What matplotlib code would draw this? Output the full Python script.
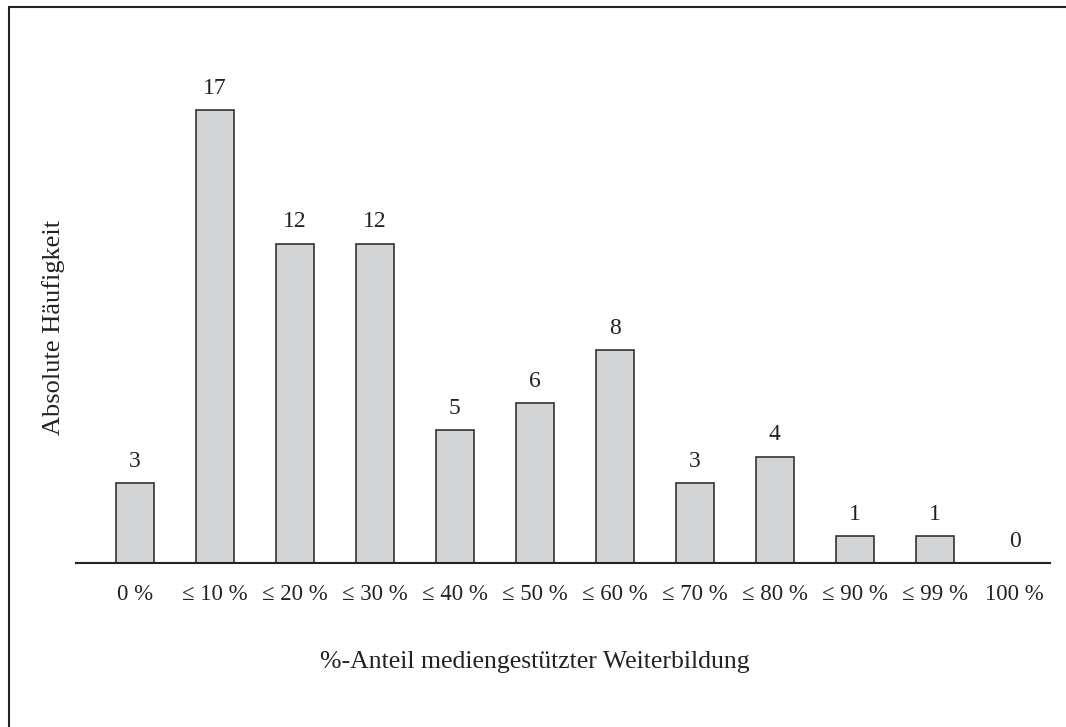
import matplotlib
matplotlib.use('Agg')
import matplotlib.pyplot as plt
import numpy as np

# Daten
kategorien = ['0 %', '≤ 10 %', '≤ 20 %', '≤ 30 %', '≤ 40 %', '≤ 50 %',
              '≤ 60 %', '≤ 70 %', '≤ 80 %', '≤ 90 %', '≤ 99 %', '100 %']
haeufigkeit = [3, 17, 12, 12, 5, 6, 8, 3, 4, 1, 1, 0]

plt.rcParams['font.family'] = ['Liberation Serif', 'DejaVu Serif']

fig = plt.figure(figsize=(10.66, 7.27), dpi=100)
ax = fig.add_axes([0.0713, 0.2256, 0.9137, 0.692])

x = np.arange(len(kategorien))
balken = ax.bar(x, haeufigkeit, width=0.475, color='#d3d4d6',
                edgecolor='#333333', linewidth=1.2)

# Werte ueber den Balken
for xi, wert in zip(x, haeufigkeit):
    ax.annotate(str(wert), (xi, wert), xytext=(0, 8), textcoords='offset points',
                ha='center', va='bottom', fontsize=17, color='#222222')

ax.set_xlim(-0.7375, 11.44)
ax.set_ylim(0, 18.9)
ax.set_xticks(x)
ax.set_xticklabels(kategorien, fontsize=16.5, color='#222222')
ax.tick_params(axis='x', length=0, pad=15)
ax.set_yticks([])
for s in ['top', 'right', 'left']:
    ax.spines[s].set_visible(False)
ax.spines['bottom'].set_linewidth(1.5)
ax.spines['bottom'].set_color('#222222')

fig.text(535 / 1066, 1 - 662 / 727, '%-Anteil mediengestützter Weiterbildung',
         ha='center', va='center', fontsize=18.5, color='#222222')
fig.text(54 / 1066, 1 - 327 / 727, 'Absolute Häufigkeit', rotation=90,
         ha='center', va='center', fontsize=19, color='#222222')

# Rahmen (nur links und oben sichtbar)
rahmen = plt.Rectangle((9 / 1066, -0.1), 1.2, 1 - 7 / 727 + 0.1,
                       transform=fig.transFigure, fill=False,
                       edgecolor='#222222', linewidth=1.5)
fig.add_artist(rahmen)

fig.savefig('out.png', dpi=100)
